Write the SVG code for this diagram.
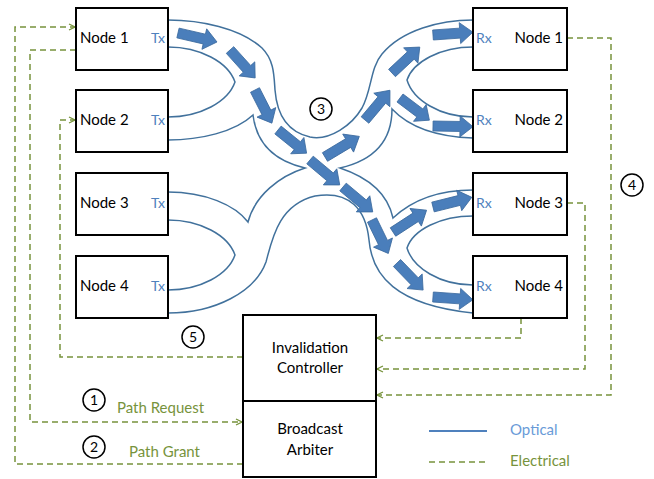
<svg xmlns="http://www.w3.org/2000/svg" width="654" height="479" viewBox="0 0 654 479">
  <defs>
    <style>
      .box { fill: #ffffff; stroke: #000000; stroke-width: 2; }
      .lbl { font-family: Lato, "Liberation Sans", sans-serif; font-size: 15px; fill: #000000; }
      .port { font-family: Lato, "Liberation Sans", sans-serif; font-size: 14px; fill: #4F81BD; }
      .guide { fill: none; stroke: #41719C; stroke-width: 1.5; }
      .flow { fill: #4A7EBB; stroke: #3B6A9E; stroke-width: 0.8; }
      .elec { fill: none; stroke: #77933C; stroke-width: 1.5; stroke-dasharray: 6 4; }
      .elec-txt { font-family: Lato, "Liberation Sans", sans-serif; font-size: 15px; fill: #77933C; }
      .num { fill: #ffffff; stroke: #000000; stroke-width: 1.5; }
      .num-txt { font-family: Lato, "Liberation Sans", sans-serif; font-size: 14px; fill: #000000; text-anchor: middle; }
    </style>
    <marker id="chev" viewBox="0 0 8 8" refX="7" refY="4" markerWidth="8" markerHeight="8" markerUnits="userSpaceOnUse" orient="auto">
      <path d="M1,1 L7,4 L1,7" fill="none" stroke="#77933C" stroke-width="1.3"/>
    </marker>
    <!-- block arrow, 40 long, pointing along +x from origin -->
    <path id="blk" d="M0,-5 H27 V-10.5 L40,0 L27,10.5 V5 H0 Z"/>
  </defs>

  <!-- optical waveguides -->
  <g id="waveguides">
    <path class="guide" d="M168,20 C200,20 240,28 262,48 C274,60 274,75 275,90 C277,115 288,132 310,137 C330,141 352,125 362,108 C372,90 370,68 382,54 C402,30 440,20 473,20"/>
    <path class="guide" d="M168,47 C200,47 228,62 235,82 C228,102 200,117 168,117"/>
    <path class="guide" d="M168,140 C200,140 235,132 253,115 C256,140 270,160 305,168 C280,176 255,195 248,222 C235,205 205,192 168,192"/>
    <path class="guide" d="M168,220 C200,220 228,235 235,255 C228,275 200,290 168,290"/>
    <path class="guide" d="M168,313 C215,313 255,292 266,262 C272,240 278,205 315,196 C350,190 366,210 369,240 C372,275 395,305 473,313"/>
    <path class="guide" d="M473,47 C440,47 413,62 407,80 C413,100 440,117 473,117"/>
    <path class="guide" d="M473,138 C440,137 410,128 392,109 C392,140 375,160 340,168 C370,178 388,195 393,218 C410,202 435,190 473,190"/>
    <path class="guide" d="M473,216 C440,216 413,230 407,248 C413,268 440,285 473,285"/>
  </g>

  <!-- light flow arrows -->
  <g id="flow-arrows">
    <use href="#blk" class="flow" transform="translate(178,33) rotate(13)"/>
    <use href="#blk" class="flow" transform="translate(230,50) rotate(48) scale(0.94,1)"/>
    <use href="#blk" class="flow" transform="translate(255,90) rotate(63) scale(0.93,1)"/>
    <use href="#blk" class="flow" transform="translate(278,130) rotate(39) scale(0.92,1)"/>
    <use href="#blk" class="flow" transform="translate(310,160) rotate(40) scale(0.97,1)"/>
    <use href="#blk" class="flow" transform="translate(343,187) rotate(40) scale(0.97,1)"/>
    <use href="#blk" class="flow" transform="translate(372,220) rotate(64) scale(0.93,1)"/>
    <use href="#blk" class="flow" transform="translate(397,263) rotate(46) scale(0.94,1)"/>
    <use href="#blk" class="flow" transform="translate(433,297) rotate(4)"/>
    <use href="#blk" class="flow" transform="translate(393,232) rotate(-33)"/>
    <use href="#blk" class="flow" transform="translate(433,207) rotate(-14)"/>
    <use href="#blk" class="flow" transform="translate(325,157) rotate(-31)"/>
    <use href="#blk" class="flow" transform="translate(365,120) rotate(-50) scale(0.97,1)"/>
    <use href="#blk" class="flow" transform="translate(392,73) rotate(-43) scale(0.95,1)"/>
    <use href="#blk" class="flow" transform="translate(433,35) rotate(-4)"/>
    <use href="#blk" class="flow" transform="translate(400,98) rotate(37) scale(0.92,1)"/>
    <use href="#blk" class="flow" transform="translate(433,126) rotate(1)"/>
  </g>

  <!-- electrical links -->
  <g id="connectors">
    <path class="elec" d="M243,464 H15 V27 H75" marker-end="url(#chev)"/>
    <path class="elec" d="M76,50 H30 V422 H242" marker-end="url(#chev)"/>
    <path class="elec" d="M243,357 H60 V120 H75" marker-end="url(#chev)"/>
    <path class="elec" d="M567,38 H611 V395 H377" marker-end="url(#chev)"/>
    <path class="elec" d="M567,203 H585 V369 H377" marker-end="url(#chev)"/>
    <path class="elec" d="M521,318 V338 H377" marker-end="url(#chev)"/>
  </g>

  <!-- transmitting nodes -->
  <g id="tx-node-1">
    <rect class="box" x="76" y="8" width="92" height="62"/>
    <text class="lbl" x="80" y="43">Node 1</text>
    <text class="port" x="151" y="43">Tx</text>
  </g>
  <g id="tx-node-2">
    <rect class="box" x="76" y="90" width="92" height="62"/>
    <text class="lbl" x="80" y="125">Node 2</text>
    <text class="port" x="151" y="125">Tx</text>
  </g>
  <g id="tx-node-3">
    <rect class="box" x="76" y="173" width="92" height="62"/>
    <text class="lbl" x="80" y="208">Node 3</text>
    <text class="port" x="151" y="208">Tx</text>
  </g>
  <g id="tx-node-4">
    <rect class="box" x="76" y="256" width="92" height="62"/>
    <text class="lbl" x="80" y="291">Node 4</text>
    <text class="port" x="151" y="291">Tx</text>
  </g>

  <!-- receiving nodes -->
  <g id="rx-node-1">
    <rect class="box" x="473" y="8" width="94" height="62"/>
    <text class="port" x="476" y="43">Rx</text>
    <text class="lbl" x="563" y="43" text-anchor="end">Node 1</text>
  </g>
  <g id="rx-node-2">
    <rect class="box" x="473" y="90" width="94" height="62"/>
    <text class="port" x="476" y="125">Rx</text>
    <text class="lbl" x="563" y="125" text-anchor="end">Node 2</text>
  </g>
  <g id="rx-node-3">
    <rect class="box" x="473" y="173" width="94" height="62"/>
    <text class="port" x="476" y="208">Rx</text>
    <text class="lbl" x="563" y="208" text-anchor="end">Node 3</text>
  </g>
  <g id="rx-node-4">
    <rect class="box" x="473" y="256" width="94" height="62"/>
    <text class="port" x="476" y="291">Rx</text>
    <text class="lbl" x="563" y="291" text-anchor="end">Node 4</text>
  </g>

  <!-- control blocks -->
  <g id="invalidation-controller">
    <rect class="box" x="243" y="315" width="133" height="86"/>
    <text class="lbl" x="310" y="353" text-anchor="middle">Invalidation</text>
    <text class="lbl" x="310" y="373" text-anchor="middle">Controller</text>
  </g>
  <g id="broadcast-arbiter">
    <rect class="box" x="243" y="401" width="133" height="76"/>
    <text class="lbl" x="310" y="434" text-anchor="middle">Broadcast</text>
    <text class="lbl" x="310" y="455" text-anchor="middle">Arbiter</text>
  </g>

  <!-- signal labels -->
  <text class="elec-txt" x="117" y="413">Path Request</text>
  <text class="elec-txt" x="129" y="457">Path Grant</text>

  <!-- step markers -->
  <g id="step-1"><circle class="num" cx="94" cy="400" r="11"/><text class="num-txt" x="94" y="405">1</text></g>
  <g id="step-2"><circle class="num" cx="94" cy="447" r="11"/><text class="num-txt" x="94" y="452">2</text></g>
  <g id="step-3"><circle class="num" cx="321" cy="109" r="11"/><text class="num-txt" x="321" y="114">3</text></g>
  <g id="step-4"><circle class="num" cx="632" cy="185" r="11"/><text class="num-txt" x="632" y="190">4</text></g>
  <g id="step-5"><circle class="num" cx="193" cy="337" r="11"/><text class="num-txt" x="193" y="342">5</text></g>

  <!-- legend -->
  <g id="legend">
    <line x1="429" y1="431" x2="487" y2="431" stroke="#4F81BD" stroke-width="1.8"/>
    <text x="510" y="435" font-family="Lato, 'Liberation Sans', sans-serif" font-size="15" fill="#6A9BD8">Optical</text>
    <line class="elec" x1="429" y1="462" x2="487" y2="462"/>
    <text x="510" y="466" font-family="Lato, 'Liberation Sans', sans-serif" font-size="15" fill="#77933C">Electrical</text>
  </g>
</svg>
